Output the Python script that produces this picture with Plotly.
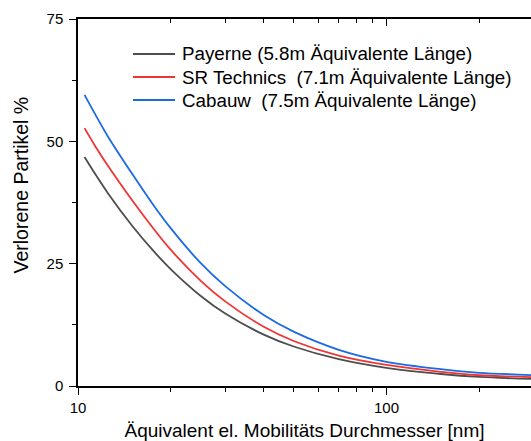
import math
import plotly.graph_objects as go

# Data
diam_nm = [10.5, 11.4, 12.5, 15, 17.5, 20, 25, 30, 40, 50, 70, 100, 150, 200, 300]
payerne = [46.8, 43.2, 39.4, 32.7, 27.7, 23.85, 18.4, 14.8, 10.5, 8.07, 5.48, 3.7, 2.45, 1.85, 1.42]
sr_technics = [52.7, 48.9, 45.0, 37.9, 32.3, 27.8, 21.5, 17.3, 12.1, 9.2, 6.2, 4.3, 2.9, 2.2, 1.78]
cabauw = [59.5, 55.4, 51.0, 43.3, 37.1, 32.2, 25.1, 20.4, 14.5, 11.1, 7.4, 4.95, 3.45, 2.7, 2.22]

series_names = [
    "Payerne (5.8m Äquivalente Länge)",
    "SR Technics  (7.1m Äquivalente Länge)",
    "Cabauw  (7.5m Äquivalente Länge)",
]
series_colors = ["#4d4d4d", "#f03434", "#1c6ae4"]

x_major = [10, 100]
x_major_labels = ["10", "100"]
x_minor = [20, 30, 40, 50, 60, 70, 80, 90, 200, 300]
y_major = [0, 25, 50, 75]

x_title = "Äquivalent el. Mobilitäts Durchmesser [nm]"
y_title = "Verlorene Partikel %"

FONT = "Liberation Sans, Arial, sans-serif"

W, H = 531, 441
ML, MR, MT, MB = 78, 0, 19, 55
PW, PH = W - ML - MR, H - MT - MB


def px_x(p):
    return (p - ML) / PW


def px_y(p):
    return (H - MB - p) / PH


fig = go.Figure()
for name, vals, col in zip(series_names, [payerne, sr_technics, cabauw], series_colors):
    fig.add_trace(go.Scatter(
        x=diam_nm, y=vals, mode="lines", name=name,
        line=dict(color=col, width=1.8, shape="spline", smoothing=0.8),
        showlegend=False,
    ))

# invisible trace to carry the top mirror axis
fig.add_trace(go.Scatter(x=[10], y=[0], xaxis="x2", mode="markers",
                         marker=dict(opacity=0), showlegend=False, hoverinfo="skip"))

xr = [1, math.log10(294)]

# legend (keys + labels) placed inside the plot area
legend_rows_px = [54, 77, 100]
shapes = []
annotations = []
for name, col, ry in zip(series_names, series_colors, legend_rows_px):
    shapes.append(dict(type="line", xref="paper", yref="paper",
                       x0=px_x(133), x1=px_x(175), y0=px_y(ry), y1=px_y(ry),
                       line=dict(color=col, width=1.8)))
    annotations.append(dict(text=name, xref="paper", yref="paper",
                            x=px_x(180), y=px_y(ry), xanchor="left", yanchor="middle",
                            showarrow=False,
                            font=dict(family=FONT, size=18.8, color="black")))

annotations.append(dict(
    text=y_title, textangle=-90, xref="paper", yref="paper",
    x=px_x(20), y=px_y(185.5),
    xanchor="center", yanchor="middle", showarrow=False,
    font=dict(family=FONT, size=19.5, color="black"),
))

fig.update_layout(
    width=W, height=H,
    margin=dict(l=ML, r=MR, t=MT, b=MB),
    paper_bgcolor="white", plot_bgcolor="white",
    font=dict(family=FONT, size=15, color="black"),
    showlegend=False,
    xaxis=dict(
        type="log", range=xr,
        tickmode="array", tickvals=x_major, ticktext=x_major_labels,
        ticks="outside", ticklen=7, tickwidth=1.3, tickcolor="black",
        showline=True, linecolor="black", linewidth=1.5,
        showgrid=False, zeroline=False,
        tickfont=dict(size=15),
        minor=dict(tickmode="array", tickvals=x_minor, ticks="outside",
                   ticklen=4, tickwidth=1.3, tickcolor="black", showgrid=False),
        title=dict(text=x_title, font=dict(size=19), standoff=12),
    ),
    xaxis2=dict(
        type="log", range=xr, overlaying="x", side="top",
        tickmode="array", tickvals=x_major, showticklabels=False,
        ticks="inside", ticklen=7, tickwidth=1.3, tickcolor="black",
        showline=True, linecolor="black", linewidth=1.5,
        showgrid=False, zeroline=False,
        minor=dict(tickmode="array", tickvals=x_minor, ticks="inside",
                   ticklen=4, tickwidth=1.3, tickcolor="black", showgrid=False),
    ),
    yaxis=dict(
        range=[0, 75], tickmode="array", tickvals=y_major,
        ticks="outside", ticklen=7, tickwidth=1.3, tickcolor="black",
        showline=True, linecolor="black", linewidth=1.5,
        showgrid=False, zeroline=False,
        tickfont=dict(size=15), ticklabelstandoff=3,
        minor=dict(dtick=12.5, ticks="outside", ticklen=4, tickwidth=1.3,
                   tickcolor="black", showgrid=False),
    ),
    shapes=shapes,
    annotations=annotations,
)

fig.write_html("out.html")
